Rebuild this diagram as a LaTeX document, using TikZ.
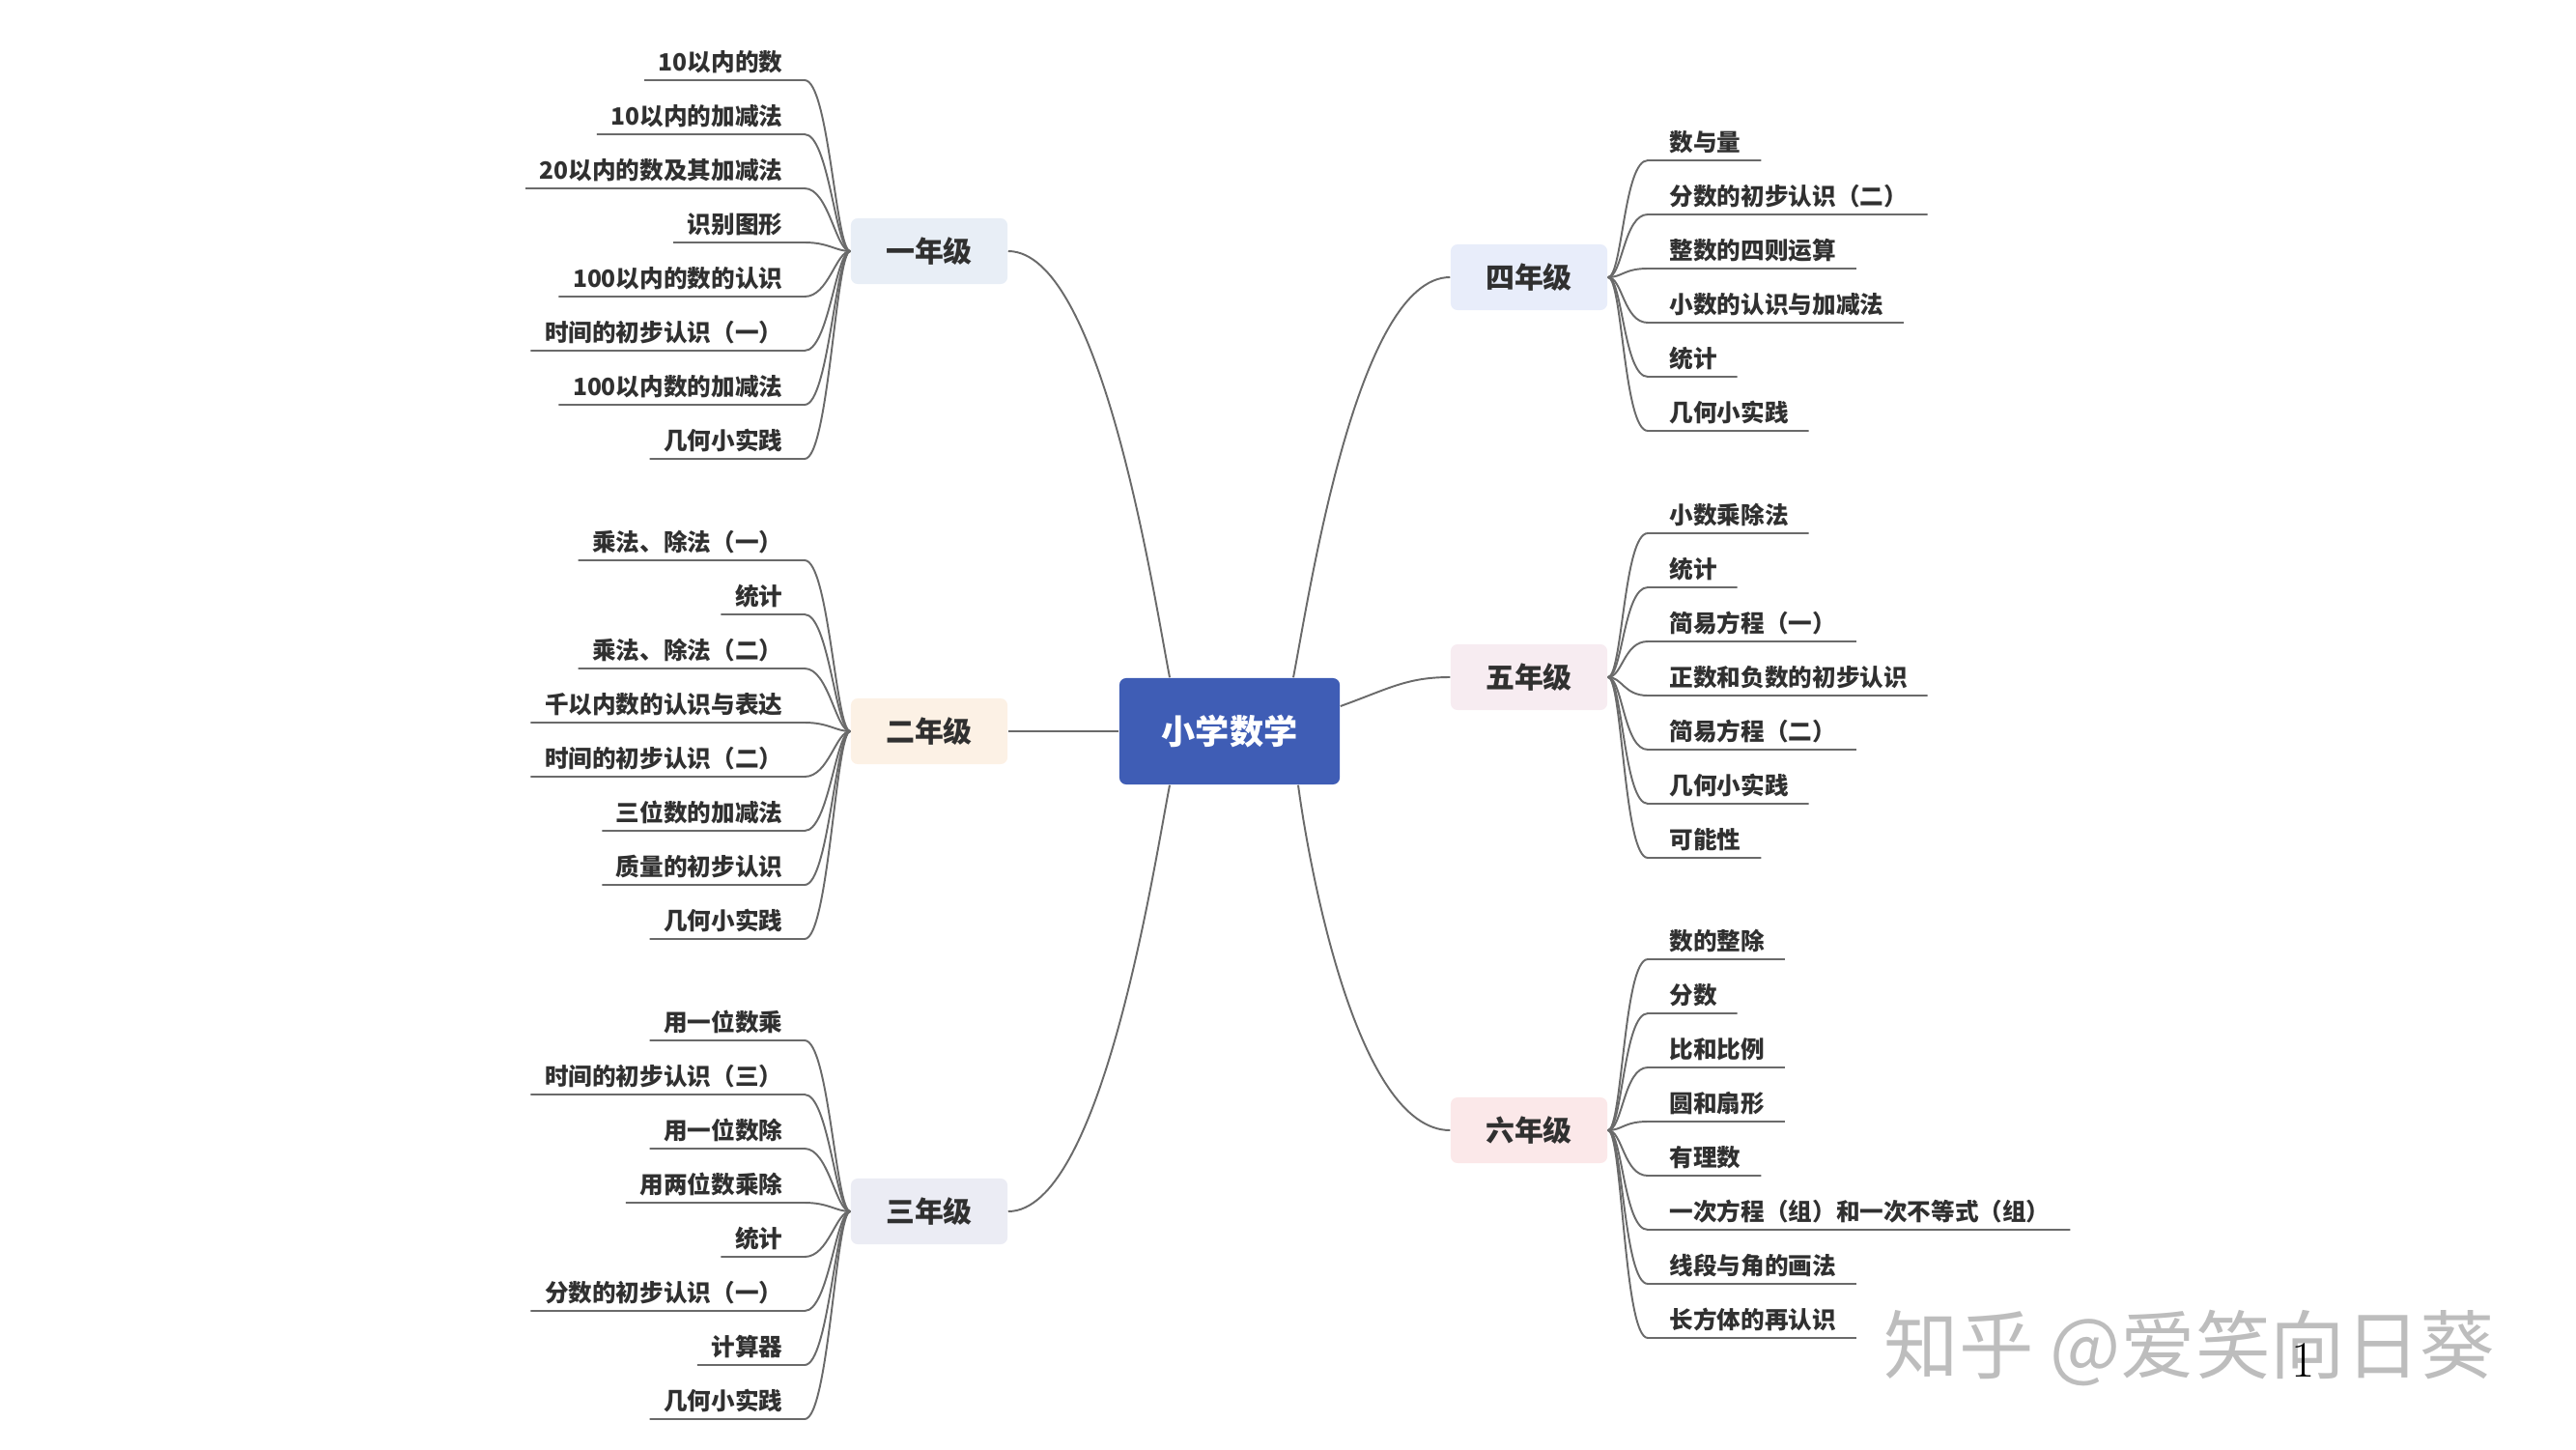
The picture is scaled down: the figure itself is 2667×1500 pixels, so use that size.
\documentclass[tikz,border=0pt]{standalone}
\usepackage{fontspec}
\newfontfamily\cjk{Noto Sans CJK SC}
\usetikzlibrary{calc}
\usetikzlibrary{positioning}
\definecolor{rootblue}{HTML}{3F5DB5}
\definecolor{textdark}{HTML}{303030}
\definecolor{linegray}{HTML}{6A6A6A}
\definecolor{markgray}{HTML}{BDBDBD}
\definecolor{gradeA}{HTML}{E8EEF6}
\definecolor{gradeB}{HTML}{FCF1E5}
\definecolor{gradeC}{HTML}{EBECF4}
\definecolor{gradeD}{HTML}{E8EDFA}
\definecolor{gradeE}{HTML}{F7ECF1}
\definecolor{gradeF}{HTML}{FBE8E9}
\tikzset{
	root/.style={
		rectangle,
		rounded corners=2pt,
		fill=rootblue,
		text=white,
		minimum width=2.28cm,
		minimum height=1.1cm,
		font=\cjk\bfseries\fontsize{10pt}{12pt}\selectfont},
	grade/.style={
		rectangle,
		rounded corners=2pt,
		minimum width=1.62cm,
		minimum height=0.68cm,
		text=textdark,
		font=\cjk\bfseries\fontsize{8.5pt}{10pt}\selectfont},
	leafL/.style={anchor=east, inner sep=0pt, text=textdark,
		font=\cjk\bfseries\fontsize{7pt}{8pt}\selectfont},
	leafR/.style={anchor=west, inner sep=0pt, text=textdark,
		font=\cjk\bfseries\fontsize{7pt}{8pt}\selectfont},
	link/.style={draw=linegray, line width=0.55pt},
}

\begin{document}
\begin{tikzpicture}[x=0.01cm, y=-0.01cm]
	\useasboundingbox (0,0) rectangle (2667,1500);

	\node[root] (root) at (1273,757) {小学数学};
	\node[grade, fill=gradeA] (g1) at (962,260) {一年级};
	\node[grade, fill=gradeB] (g2) at (962,757) {二年级};
	\node[grade, fill=gradeC] (g3) at (962,1254) {三年级};
	\node[grade, fill=gradeD] (g4) at (1583,287) {四年级};
	\node[grade, fill=gradeE] (g5) at (1583,701) {五年级};
	\node[grade, fill=gradeF] (g6) at (1583,1170) {六年级};

	% main branches
	\draw[link] (g1.east) .. controls +(97,0) and ($(root.north)+(-78,-82)$) .. ($(root.north)+(-62,0)$);
	\draw[link] (g2.east) -- (root.west);
	\draw[link] (g3.east) .. controls +(97,0) and ($(root.south)+(-78,82)$) .. ($(root.south)+(-62,0)$);
	\draw[link] ($(root.north)+(66,0)$) .. controls ($(root.north)+(82,-82)$) and ($(g4.west)+(-97,0)$) .. (g4.west);
	\draw[link] ($(root.east)+(0,-26)$) .. controls +(50,-18) and ($(g5.west)+(-45,0)$) .. (g5.west);
	\draw[link] ($(root.south)+(71,0)$) .. controls ($(root.south)+(82,82)$) and ($(g6.west)+(-97,0)$) .. (g6.west);

	% left leaves
	\foreach \txt [count=\i] in {10以内的数, 10以内的加减法, 20以内的数及其加减法, 识别图形, 100以内的数的认识, 时间的初步认识（一）, 100以内数的加减法, 几何小实践}{
		\node[leafL] (a\i) at (811,{260+(\i-4.5)*56}) {\txt};
		\draw[link] ($(a\i.west)+(-14,19)$) -- ($(a\i.east)+(22,19)$) .. controls +(25,0) and ($(g1.west)+(-15,0)$) .. (g1.west);
	}
	\foreach \txt [count=\i] in {乘法、除法（一）, 统计, 乘法、除法（二）, 千以内数的认识与表达, 时间的初步认识（二）, 三位数的加减法, 质量的初步认识, 几何小实践}{
		\node[leafL] (b\i) at (811,{757+(\i-4.5)*56}) {\txt};
		\draw[link] ($(b\i.west)+(-14,19)$) -- ($(b\i.east)+(22,19)$) .. controls +(25,0) and ($(g2.west)+(-15,0)$) .. (g2.west);
	}
	\foreach \txt [count=\i] in {用一位数乘, 时间的初步认识（三）, 用一位数除, 用两位数乘除, 统计, 分数的初步认识（一）, 计算器, 几何小实践}{
		\node[leafL] (c\i) at (811,{1254+(\i-4.5)*56}) {\txt};
		\draw[link] ($(c\i.west)+(-14,19)$) -- ($(c\i.east)+(22,19)$) .. controls +(25,0) and ($(g3.west)+(-15,0)$) .. (g3.west);
	}

	% right leaves
	\foreach \txt [count=\i] in {数与量, 分数的初步认识（二）, 整数的四则运算, 小数的认识与加减法, 统计, 几何小实践}{
		\node[leafR] (d\i) at (1728,{287+(\i-3.5)*56}) {\txt};
		\draw[link] ($(d\i.east)+(20,19)$) -- ($(d\i.west)+(-22,19)$) .. controls +(-25,0) and ($(g4.east)+(15,0)$) .. (g4.east);
	}
	\foreach \txt [count=\i] in {小数乘除法, 统计, 简易方程（一）, 正数和负数的初步认识, 简易方程（二）, 几何小实践, 可能性}{
		\node[leafR] (e\i) at (1728,{701+(\i-4)*56}) {\txt};
		\draw[link] ($(e\i.east)+(20,19)$) -- ($(e\i.west)+(-22,19)$) .. controls +(-25,0) and ($(g5.east)+(15,0)$) .. (g5.east);
	}
	\foreach \txt [count=\i] in {数的整除, 分数, 比和比例, 圆和扇形, 有理数, 一次方程（组）和一次不等式（组）, 线段与角的画法, 长方体的再认识}{
		\node[leafR] (f\i) at (1728,{1170+(\i-4.5)*56}) {\txt};
		\draw[link] ($(f\i.east)+(20,19)$) -- ($(f\i.west)+(-22,19)$) .. controls +(-25,0) and ($(g6.east)+(15,0)$) .. (g6.east);
	}

	% watermark and page number
	\node[anchor=west, inner sep=0pt, text=markgray, font=\cjk\fontsize{22pt}{24pt}\selectfont] (mark) at (1950,1395) {知乎 @爱笑向日葵};
	\node[inner sep=0pt, font=\fontsize{15pt}{16pt}\selectfont] (pnum) at (2385,1408) {1};
\end{tikzpicture}
\end{document}
